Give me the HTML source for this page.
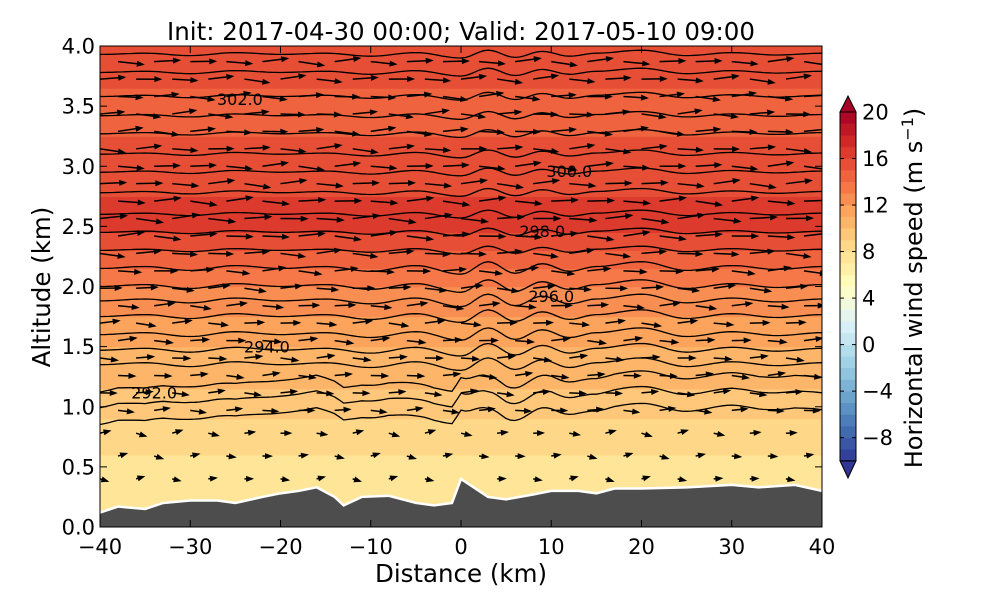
<!DOCTYPE html>
<html><head><meta charset="utf-8">
<style>
body{margin:0;background:#fff;}
svg{display:block;font-family:"DejaVu Sans","Liberation Sans",sans-serif;}
</style></head>
<body>
<svg id="chart" width="1000" height="600" viewBox="0 0 1000 600" xmlns="http://www.w3.org/2000/svg">
<defs><clipPath id="plotclip"><rect x="100" y="46" width="722" height="481"/></clipPath></defs>
<g id="fill" clip-path="url(#plotclip)"></g>
<g id="contours" clip-path="url(#plotclip)"></g>
<g id="arrows" clip-path="url(#plotclip)"></g>
<g id="terrain" clip-path="url(#plotclip)"></g>
<g id="axes"></g>
<g id="cbar"></g>
<text x="461" y="40" font-size="24.5" text-anchor="middle">Init: 2017-04-30 00:00; Valid: 2017-05-10 09:00</text>
<text x="461" y="582" font-size="24.5" text-anchor="middle">Distance (km)</text>
<text x="50" y="287" font-size="24.5" text-anchor="middle" transform="rotate(-90 50 287)">Altitude (km)</text>
<text x="922" y="288" font-size="24" text-anchor="middle" transform="rotate(-90 922 288)">Horizontal wind speed (m s<tspan dy="-9" font-size="16">−1</tspan><tspan dy="9">)</tspan></text>
</svg>
<script>
const profileZ = [0, 0.5, 0.8, 1.0, 1.5, 2.0, 2.5, 3.0, 3.5, 4.0];
const profileSpeed = [7.5, 7.8, 8.5, 9.5, 11, 13, 16.5, 15.5, 14.5, 16];
const terrainX = [-40,-38,-35,-33,-30,-27,-25,-22,-20,-18,-16,-14,-13,-11,-8,-5,-3,-1,0,1,3,5,8,10,13,15,17,20,25,30,33,37,40];
const terrainH = [0.12,0.17,0.15,0.2,0.22,0.22,0.2,0.25,0.28,0.3,0.33,0.25,0.18,0.25,0.26,0.2,0.18,0.2,0.4,0.35,0.25,0.23,0.27,0.3,0.3,0.28,0.32,0.32,0.33,0.35,0.33,0.35,0.3];
const contourBase = [0.93,1.07,1.2,1.35,1.47,1.6,1.75,1.88,2.0,2.15,2.3,2.45,2.6,2.78,2.95,3.1,3.27,3.42,3.58,3.78,3.93];
const wiggleX = [-40,-35,-30,-25,-20,-15,-10,-5,0,3,6,9,12,15,20,25,30,35,40];
const wiggle = [0,0.01,-0.01,0.015,0,0.01,-0.015,0.015,-0.03,0.035,-0.025,0.025,-0.015,0.01,0.035,-0.01,0.015,-0.005,0.01];
const labelText = ["302.0","300.0","298.0","296.0","294.0","292.0"];
const labelX = [-24.5,12,9,10,-21.5,-34];
const labelZ = [3.56,2.96,2.46,1.92,1.5,1.12];
const cbTicks = [20,16,12,8,4,0,-4,-8];
const xTicks = [-40,-30,-20,-10,0,10,20,30,40];
const yTicks = [0.0,0.5,1.0,1.5,2.0,2.5,3.0,3.5,4.0];

const X0=100,X1=822,Y0=527,Y1=46;
const sx=x=>X0+(x+40)/80*(X1-X0);
const sy=z=>Y0-z/4*(Y0-Y1);
const NS="http://www.w3.org/2000/svg";
function mk(tag,attrs,parent){const e=document.createElementNS(NS,tag);for(const k in attrs)e.setAttribute(k,attrs[k]);parent.appendChild(e);return e;}
function interp(xs,ys,x){if(x<=xs[0])return ys[0];for(let i=1;i<xs.length;i++){if(x<=xs[i]){const t=(x-xs[i-1])/(xs[i]-xs[i-1]);return ys[i-1]+t*(ys[i]-ys[i-1]);}}return ys[ys.length-1];}
function cinterp(xs,ys,x){if(x<=xs[0])return ys[0];for(let i=1;i<xs.length;i++){if(x<=xs[i]){let t=(x-xs[i-1])/(xs[i]-xs[i-1]);t=(1-Math.cos(t*Math.PI))/2;return ys[i-1]+t*(ys[i]-ys[i-1]);}}return ys[ys.length-1];}
const stops=["#313695","#4575b4","#74add1","#abd9e9","#e0f3f8","#ffffbf","#fee090","#fdae61","#f46d43","#d73027","#a50026"];
function hex(c){return [1,3,5].map(i=>parseInt(c.substr(i,2),16));}
function cmap(v){let n=(Math.floor(v)+0.5+10)/30;n=Math.max(0,Math.min(1,n));const p=n*10,i=Math.min(9,Math.floor(p)),t=p-i;const a=hex(stops[i]),b=hex(stops[i+1]);return "rgb("+a.map((q,k)=>Math.round(q+(b[k]-q)*t)).join(",")+")";}

// fill
const fill=document.getElementById('fill');
const NZ=80;
for(let j=0;j<NZ;j++){const z0=j*4/NZ,z1=(j+1)*4/NZ;const v=interp(profileZ,profileSpeed,(z0+z1)/2);
 const r=mk('rect',{x:X0,y:sy(z1),width:X1-X0,height:sy(z0)-sy(z1)+0.6,fill:cmap(v)},fill);
 
 }

// contours
const cg=document.getElementById('contours');
contourBase.forEach((b,ci)=>{let d="";const amp=b<2.2?1.6:1;
 for(let x=-40;x<=40;x+=0.5){const th=interp(terrainX,terrainH,x);let z=b+amp*cinterp(wiggleX,wiggle,x)+(b<1.3?(th-0.25)*0.6:0);
  d+=(x===-40?"M":"L")+sx(x).toFixed(1)+","+sy(z).toFixed(1);}
 const p=mk('path',{d:d,fill:"none",stroke:"#000","stroke-width":1.3},cg);
 
 });
labelText.forEach((t,i)=>{const e=mk('text',{x:sx(labelX[i]),y:sy(labelZ[i])+6,"font-size":16,"text-anchor":"middle"},cg);e.textContent=t;
 
 });

// arrows
const ag=document.getElementById('arrows');
let row=0;
for(let z=0.02;z<4.0;row++){
 const low=z<0.9;
 const off=(row%2)*2;
 for(let x=-40+off;x<40;x+=4){
  const th=interp(terrainX,terrainH,x);if(z<th+0.04){continue;}
  const sp=interp(profileZ,profileSpeed,z);const L=low?7+(sp-7.5)*3:sp*1.6;
  const ang=(low?0.3:0.15)*Math.sin(x*0.9+z*7);
  const x0=sx(x),y0=sy(z),x1=x0+L*Math.cos(ang),y1=y0-L*Math.sin(ang);
  const g=mk('g',{},ag);
  
  
  mk('line',{x1:x0,y1:y0,x2:x1,y2:y1,stroke:"#000","stroke-width":1.5},g);
  const ux=Math.cos(ang),uy=-Math.sin(ang),h=6;
  mk('polygon',{points:`${x1+ux*2},${y1+uy*2} ${x1-ux*h-uy*3},${y1-uy*h+ux*3} ${x1-ux*h+uy*3},${y1-uy*h-ux*3}`,fill:"#000"},g);}
 z+= low?0.19:0.145;}

// terrain
const tg=document.getElementById('terrain');
let td="M"+sx(-40)+","+sy(0);terrainX.forEach((x,i)=>td+="L"+sx(x)+","+sy(terrainH[i]));td+="L"+sx(40)+","+sy(0)+"Z";
mk('path',{d:td,fill:"#4d4d4d"},tg);
let tl="";terrainX.forEach((x,i)=>tl+=(i?"L":"M")+sx(x)+","+sy(terrainH[i]));
mk('path',{d:tl,fill:"none",stroke:"#fff","stroke-width":2.5},tg);

// axes
const ax=document.getElementById('axes');
mk('rect',{x:X0,y:Y1,width:X1-X0,height:Y0-Y1,fill:"none",stroke:"#000","stroke-width":1},ax);
xTicks.forEach(t=>{const x=sx(t);mk('line',{x1:x,y1:Y0,x2:x,y2:Y0-7,stroke:"#000"},ax);mk('line',{x1:x,y1:Y1,x2:x,y2:Y1+7,stroke:"#000"},ax);
 const e=mk('text',{x:x,y:554,"font-size":21,"text-anchor":"middle"},ax);e.textContent=(t<0?"−"+(-t):t);
 
 });
yTicks.forEach(t=>{const y=sy(t);mk('line',{x1:X0,y1:y,x2:X0+7,y2:y,stroke:"#000"},ax);mk('line',{x1:X1,y1:y,x2:X1-7,y2:y,stroke:"#000"},ax);
 const e=mk('text',{x:95,y:y+7.5,"font-size":21,"text-anchor":"end"},ax);e.textContent=t.toFixed(1);
 
 });

// colorbar
const cb=document.getElementById('cbar');
const cx=840,cw=16,cy=v=>112+(20-v)*11.63;
for(let v=-10;v<20;v++){const r=mk('rect',{x:cx,y:cy(v+1),width:cw,height:11.9,fill:cmap(v)},cb);
 
 }
mk('polygon',{points:`${cx},${cy(20)} ${cx+cw},${cy(20)} ${cx+cw/2},${cy(20)-16}`,fill:cmap(20),stroke:"#000"},cb);
mk('polygon',{points:`${cx},${cy(-10)} ${cx+cw},${cy(-10)} ${cx+cw/2},${cy(-10)+17}`,fill:cmap(-11),stroke:"#000"},cb);
mk('rect',{x:cx,y:cy(20),width:cw,height:cy(-10)-cy(20),fill:"none",stroke:"#000"},cb);
cbTicks.forEach(t=>{const y=cy(t);mk('line',{x1:cx,y1:y,x2:cx+4,y2:y,stroke:"#000"},cb);mk('line',{x1:cx+cw,y1:y,x2:cx+cw-4,y2:y,stroke:"#000"},cb);
 const e=mk('text',{x:862,y:y+7.5,"font-size":21},cb);e.textContent=(t<0?"−"+(-t):t);
 
 });
</script>
</body></html>
